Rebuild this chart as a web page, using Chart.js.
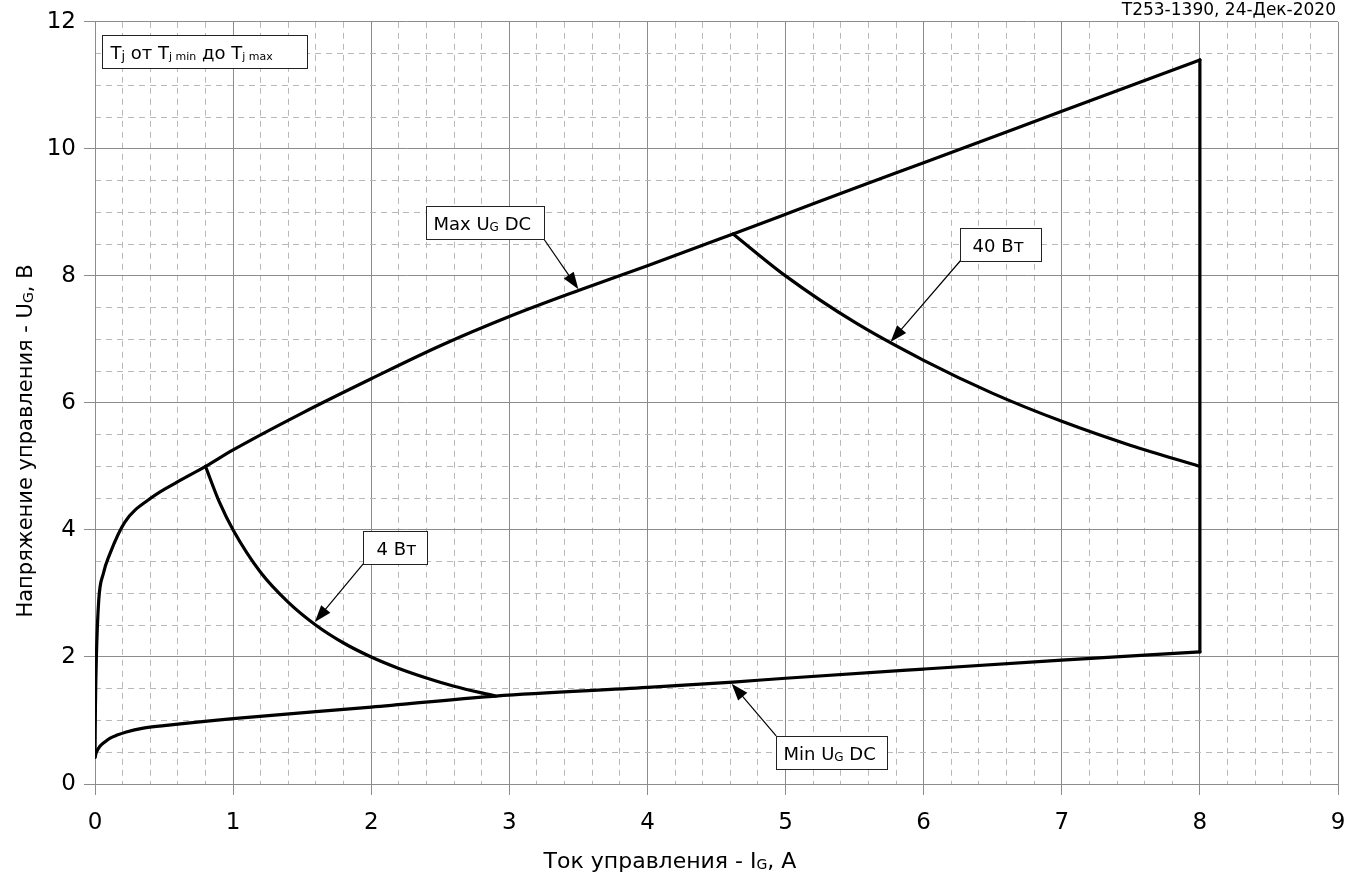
<!DOCTYPE html>
<html lang="ru">
<head>
<meta charset="utf-8">
<title>T253-1390 — область управления</title>
<script src="https://cdn.jsdelivr.net/npm/chart.js@4.4.0/dist/chart.umd.min.js"></script>
<style>
    html, body { margin: 0; padding: 0; background: #fff; }
    #wrap { width: 1360px; height: 886px; }
</style>
</head>
<body>
<div id="wrap"><canvas id="gateChart" width="1360" height="886"></canvas></div>
<script>
// ==========================================
// 1. DATA
// ==========================================
const xTickVals = [0, 1, 2, 3, 4, 5, 6, 7, 8, 9];
const yTickVals = [0, 2, 4, 6, 8, 10, 12];

// Max U_G DC
const maxI = [0, 0.003, 0.01, 0.027, 0.06, 0.107, 0.215, 0.41, 0.6, 0.8, 1, 1.5, 2, 2.5, 3, 3.5, 4, 4.62, 5, 5.5, 6, 7, 8];
const maxU = [0.42, 1.2, 2.0, 2.89, 3.31, 3.62, 4.12, 4.51, 4.76, 5.0, 5.26, 5.84, 6.38, 6.9, 7.36, 7.77, 8.16, 8.66, 8.97, 9.38, 9.78, 10.59, 11.4];

// Min U_G DC
const minI = [0, 0.01, 0.034, 0.07, 0.107, 0.16, 0.227, 0.35, 0.5, 1, 2, 2.9, 4, 4.62, 5, 6, 7, 8];
const minU = [0.42, 0.5, 0.59, 0.66, 0.72, 0.77, 0.82, 0.88, 0.92, 1.03, 1.21, 1.385, 1.52, 1.605, 1.665, 1.81, 1.95, 2.08];

// right edge, I_G = 8 A
const edgeI = [8, 8, 8];
const edgeU = [2.08, 5.0, 11.4];

// 4 W power curve
const p4I = [0.8, 0.9, 1, 1.2, 1.4, 1.6, 1.8, 2, 2.2, 2.4, 2.6, 2.9];
const p4U = [5.0, 4.44, 4.0, 3.33, 2.86, 2.5, 2.22, 2.0, 1.82, 1.67, 1.54, 1.385];

// 40 W power curve
const p40I = [4.62, 5, 5.5, 6, 6.5, 7, 7.5, 8];
const p40U = [8.66, 8.0, 7.27, 6.67, 6.15, 5.71, 5.33, 5.0];

// ==========================================
// 2. LABELS / ANNOTATIONS
// ==========================================
const FONT = "'DejaVu Sans', Verdana, sans-serif";

// box: [x1, y1, x2, y2] in data units, arrow: [fromX, fromY, toX, toY]
const notes = [
    { parts: [['T'], ['j', 0.7], [' от T'], ['j min', 0.6], [' до T'], ['j max', 0.6]], box: [0.051, 11.796, 1.536, 11.274], pad: 8 },
    { parts: [['Max U'], ['G', 0.65], [' DC']], box: [2.396, 9.107, 3.25, 8.58], pad: 7, arrow: [3.25, 8.58, 3.5, 7.79] },
    { parts: [['40 Вт']], box: [6.266, 8.76, 6.851, 8.238], pad: 12, arrow: [6.266, 8.238, 5.76, 6.96] },
    { parts: [['4 Вт']], box: [1.942, 3.986, 2.401, 3.464], pad: 13, arrow: [1.942, 3.464, 1.592, 2.55] },
    { parts: [['Min U'], ['G', 0.65], [' DC']], box: [4.932, 0.757, 5.735, 0.235], pad: 7, arrow: [4.932, 0.757, 4.61, 1.58] }
];

const xTitle = [['Ток управления - I'], ['G', 0.65], [', A']];
const yTitle = [['Напряжение управления - U'], ['G', 0.65], [', B']];
const cornerTitle = 'T253-1390, 24-Дек-2020';

function pts(xs, ys) {
    return xs.map((x, i) => ({ x: x, y: ys[i] }));
}

function drawRich(ctx, parts, x, y, size, align) {
    let w = 0;
    parts.forEach(p => {
        ctx.font = `${Math.round(size * (p[1] || 1))}px ${FONT}`;
        w += ctx.measureText(p[0]).width;
    });
    let cx = align === 'center' ? x - w / 2 : x;
    parts.forEach(p => {
        ctx.font = `${Math.round(size * (p[1] || 1))}px ${FONT}`;
        ctx.fillText(p[0], cx, y + (p[1] ? 1 : 0));
        cx += ctx.measureText(p[0]).width;
    });
}

function drawArrow(ctx, x1, y1, x2, y2) {
    const a = Math.atan2(y2 - y1, x2 - x1);
    const len = 17, half = 6;
    const c = Math.cos(a), s = Math.sin(a);
    ctx.beginPath();
    ctx.moveTo(x1, y1);
    ctx.lineTo(x2 - c * len * 0.7, y2 - s * len * 0.7);
    ctx.stroke();
    ctx.beginPath();
    ctx.moveTo(x2, y2);
    ctx.lineTo(x2 - c * len + s * half, y2 - s * len - c * half);
    ctx.lineTo(x2 - c * len - s * half, y2 - s * len + c * half);
    ctx.closePath();
    ctx.fill();
}

const notesPlugin = {
    id: 'notes',
    afterDatasetsDraw(chart) {
        const ctx = chart.ctx;
        const sx = chart.scales.x, sy = chart.scales.y;
        ctx.save();
        ctx.lineWidth = 1.2;
        ctx.strokeStyle = '#000';
        ctx.fillStyle = '#000';
        notes.forEach(n => {
            if (n.arrow) {
                drawArrow(ctx,
                    sx.getPixelForValue(n.arrow[0]), sy.getPixelForValue(n.arrow[1]),
                    sx.getPixelForValue(n.arrow[2]), sy.getPixelForValue(n.arrow[3]));
            }
        });
        notes.forEach(n => {
            const l = Math.round(sx.getPixelForValue(n.box[0])) + 0.5;
            const t = Math.round(sy.getPixelForValue(n.box[1])) + 0.5;
            const r = Math.round(sx.getPixelForValue(n.box[2])) + 0.5;
            const b = Math.round(sy.getPixelForValue(n.box[3])) + 0.5;
            ctx.fillStyle = '#fff';
            ctx.fillRect(l, t, r - l, b - t);
            ctx.lineWidth = 1;
            ctx.strokeStyle = '#222';
            ctx.strokeRect(l, t, r - l, b - t);
            ctx.fillStyle = '#000';
            ctx.textBaseline = 'alphabetic';
            ctx.textAlign = 'left';
            drawRich(ctx, n.parts, l + n.pad, (t + b) / 2 + 6.5, 18, 'left');
        });
        ctx.restore();
    },
    afterDraw(chart) {
        const ctx = chart.ctx;
        ctx.save();
        ctx.fillStyle = '#000';
        ctx.textBaseline = 'alphabetic';
        ctx.textAlign = 'left';
        // x axis title
        drawRich(ctx, xTitle, 670, 868, 22, 'center');
        // y axis title (rotated)
        ctx.translate(32, 441);
        ctx.rotate(-Math.PI / 2);
        drawRich(ctx, yTitle, 0, 0, 21, 'center');
        ctx.restore();
        // corner stamp
        ctx.save();
        ctx.fillStyle = '#000';
        ctx.font = `17px ${FONT}`;
        ctx.textAlign = 'right';
        ctx.textBaseline = 'alphabetic';
        ctx.fillText(cornerTitle, 1336, 15);
        ctx.restore();
    }
};

// ==========================================
// 3. CHART
// ==========================================
const MAJOR = '#8c8c8c';
const MINOR = '#b8b8b8';

function isMult(v, step) {
    const k = v / step;
    return Math.abs(k - Math.round(k)) < 1e-6;
}

function curve(data, tension) {
    return {
        data: data,
        borderColor: '#000',
        borderWidth: 3.2,
        pointRadius: 0,
        fill: false,
        tension: tension,
        cubicInterpolationMode: tension ? 'monotone' : 'default',
        borderJoinStyle: 'round',
        borderCapStyle: 'round'
    };
}

const ctx = document.getElementById('gateChart');
const chart = new Chart(ctx, {
    type: 'line',
    data: {
        datasets: [
            curve(pts(maxI, maxU), 0.4),
            curve(pts(minI, minU), 0.4),
            curve(pts(edgeI, edgeU), 0),
            curve(pts(p4I, p4U), 0.4),
            curve(pts(p40I, p40U), 0.4)
        ]
    },
    options: {
        responsive: false,
        animation: false,
        devicePixelRatio: 1,
        layout: { padding: { top: 19, right: 22, left: 0, bottom: 0 } },
        plugins: {
            legend: { display: false },
            tooltip: { enabled: false }
        },
        scales: {
            x: {
                type: 'linear',
                position: 'bottom',
                min: 0,
                max: 9,
                afterBuildTicks: s => { s.ticks = xTickVals.map(v => ({ value: v })); },
                afterFit: s => { s.height = 102; },
                ticks: {
                    autoSkip: false,
                    maxRotation: 0,
                    padding: 14,
                    color: '#000',
                    font: { family: FONT, size: 23 },
                    callback: v => String(v)
                },
                grid: { color: MAJOR, lineWidth: 1, tickLength: 11, drawTicks: true },
                border: { display: true, color: MAJOR, width: 1 }
            },
            xMinor: {
                type: 'linear',
                axis: 'x',
                position: 'bottom',
                min: 0,
                max: 9,
                afterFit: s => { s.height = 0; },
                ticks: { display: false, stepSize: 0.2, maxTicksLimit: 1000 },
                grid: {
                    drawTicks: false,
                    lineWidth: 1,
                    color: c => (c.tick && isMult(c.tick.value, 1)) ? 'rgba(0,0,0,0)' : MINOR
                },
                border: { display: false, dash: [6, 5] }
            },
            y: {
                type: 'linear',
                position: 'left',
                min: 0,
                max: 12,
                afterBuildTicks: s => { s.ticks = yTickVals.map(v => ({ value: v })); },
                afterFit: s => { s.width = 95; },
                ticks: {
                    autoSkip: false,
                    padding: 8,
                    color: '#000',
                    font: { family: FONT, size: 23 },
                    callback: v => String(v)
                },
                grid: { color: MAJOR, lineWidth: 1, tickLength: 11, drawTicks: true },
                border: { display: true, color: MAJOR, width: 1 }
            },
            yMinor: {
                type: 'linear',
                axis: 'y',
                position: 'left',
                min: 0,
                max: 12,
                afterFit: s => { s.width = 0; },
                ticks: { display: false, stepSize: 0.5, maxTicksLimit: 1000 },
                grid: {
                    drawTicks: false,
                    lineWidth: 1,
                    color: c => (c.tick && isMult(c.tick.value, 2)) ? 'rgba(0,0,0,0)' : MINOR
                },
                border: { display: false, dash: [6, 5] }
            }
        }
    },
    plugins: [notesPlugin]
});
</script>
</body>
</html>
